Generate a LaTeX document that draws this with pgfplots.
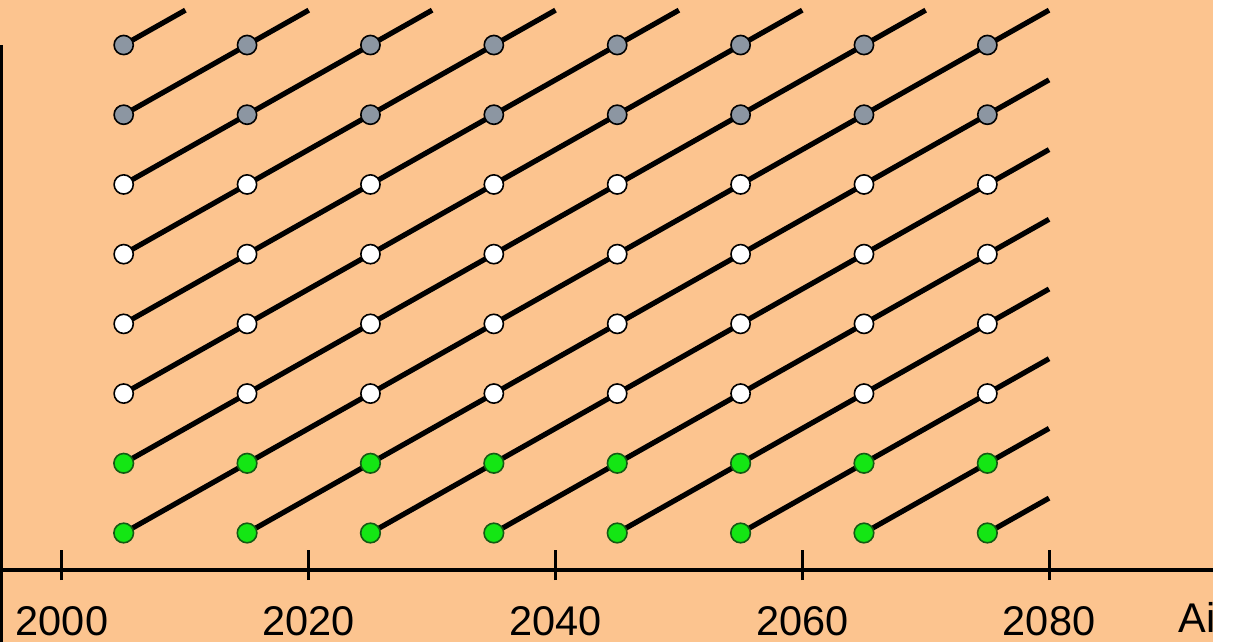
\documentclass[border=0pt]{standalone}
\usepackage{fontspec}
\setmainfont{Liberation Sans}
\usepackage{pgfplots}
\pgfplotsset{compat=1.18}
\definecolor{bgor}{RGB}{252,196,143}
\definecolor{mgreen}{RGB}{20,230,20}
\definecolor{mgreenD}{RGB}{20,90,20}
\definecolor{mgray}{RGB}{140,150,162}
\begin{document}
\begin{tikzpicture}
\useasboundingbox (0,0) rectangle (1233pt,642pt);
\begin{scope}
\clip (0,0) rectangle (1213pt,642pt);
\fill[bgor] (0,0) rectangle (1213pt,642pt);
\begin{axis}[
  at={(0pt,72pt)}, anchor=south west,
  scale only axis, width=1213pt, height=570pt,
  xmin=1994.975, xmax=2093.29, ymin=-5.31, ymax=76.46,
  axis x line*=bottom, axis y line=none,
  x axis line style={line width=3.5pt, -},
  xtick={2000,2020,2040,2060,2080},
  xticklabel style={/pgf/number format/1000 sep={}, anchor=base, yshift=-50pt, font=\fontsize{41.5}{44}\selectfont},
  /pgf/number format/assume math mode=true,
  tick align=center, major tick length=30pt,
  every tick/.style={black, line width=3pt, yshift=5pt},
  ytick=\empty,
  xlabel={Ai},
  xlabel style={at={(axis description cs:0.969,-0.1105)}, anchor=base west, font=\fontsize{41.5}{44}\selectfont},
  clip=false,
]
% cohort lines starting in 2005
\addplot[black, line width=5.2pt] coordinates {(2005,0) (2080,75)};
\addplot[black, line width=5.2pt] coordinates {(2005,10) (2070,75)};
\addplot[black, line width=5.2pt] coordinates {(2005,20) (2060,75)};
\addplot[black, line width=5.2pt] coordinates {(2005,30) (2050,75)};
\addplot[black, line width=5.2pt] coordinates {(2005,40) (2040,75)};
\addplot[black, line width=5.2pt] coordinates {(2005,50) (2030,75)};
\addplot[black, line width=5.2pt] coordinates {(2005,60) (2020,75)};
\addplot[black, line width=5.2pt] coordinates {(2005,70) (2010,75)};
% cohort lines starting at age 0
\addplot[black, line width=5.2pt] coordinates {(2015,0) (2080,65)};
\addplot[black, line width=5.2pt] coordinates {(2025,0) (2080,55)};
\addplot[black, line width=5.2pt] coordinates {(2035,0) (2080,45)};
\addplot[black, line width=5.2pt] coordinates {(2045,0) (2080,35)};
\addplot[black, line width=5.2pt] coordinates {(2055,0) (2080,25)};
\addplot[black, line width=5.2pt] coordinates {(2065,0) (2080,15)};
\addplot[black, line width=5.2pt] coordinates {(2075,0) (2080,5)};
% markers
\addplot[only marks, mark=*, mark size=9.8pt, mark options={fill=mgreen, draw=mgreenD, line width=1.6pt}] coordinates {
(2005,0) (2015,0) (2025,0) (2035,0) (2045,0) (2055,0) (2065,0) (2075,0)
(2005,10) (2015,10) (2025,10) (2035,10) (2045,10) (2055,10) (2065,10) (2075,10)};
\addplot[only marks, mark=*, mark size=9.6pt, mark options={fill=white, draw=black, line width=1.6pt}] coordinates {
(2005,20) (2015,20) (2025,20) (2035,20) (2045,20) (2055,20) (2065,20) (2075,20)
(2005,30) (2015,30) (2025,30) (2035,30) (2045,30) (2055,30) (2065,30) (2075,30)
(2005,40) (2015,40) (2025,40) (2035,40) (2045,40) (2055,40) (2065,40) (2075,40)
(2005,50) (2015,50) (2025,50) (2035,50) (2045,50) (2055,50) (2065,50) (2075,50)};
\addplot[only marks, mark=*, mark size=9.6pt, mark options={fill=mgray, draw=black, line width=1.6pt}] coordinates {
(2005,60) (2015,60) (2025,60) (2035,60) (2045,60) (2055,60) (2065,60) (2075,60)
(2005,70) (2015,70) (2025,70) (2035,70) (2045,70) (2055,70) (2065,70) (2075,70)};
\end{axis}
\draw[black, line width=3pt] (1.5pt,0) -- (1.5pt,597pt);
\end{scope}
\end{tikzpicture}
\end{document}
